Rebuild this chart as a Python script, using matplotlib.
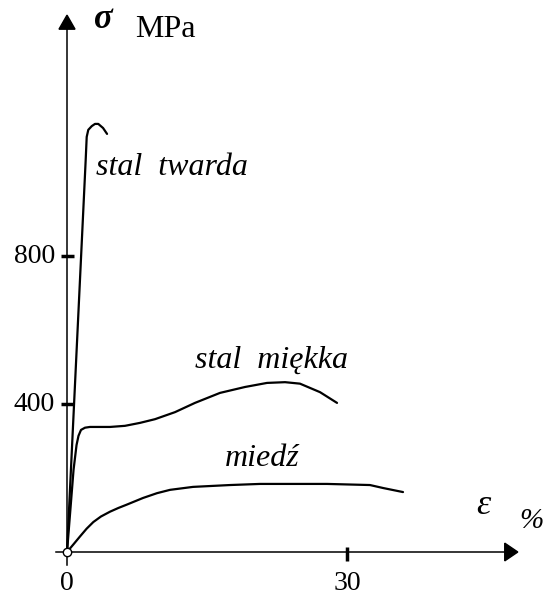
import matplotlib
matplotlib.use("Agg")
import matplotlib.pyplot as plt
from matplotlib.patches import Polygon

# ---- data (strain %, stress MPa) ----
twarda_eps = [0, 2.00, 2.11, 2.28, 2.65, 3.0, 3.35, 3.86, 4.29]
twarda_sig = [0, 1059, 1122, 1141, 1151, 1157, 1157, 1146, 1130]

miekka_eps = [0, 0.70, 1.02, 1.23, 1.50, 1.93, 2.46, 4.61, 6.21, 7.82, 9.43,
              11.57, 13.71, 16.39, 19.07, 21.43, 23.36, 24.96, 27.11, 28.93]
miekka_sig = [0, 222, 289, 314, 330, 336, 338, 338, 341, 349, 359,
              378, 403, 430, 446, 457, 459, 455, 432, 403]

miedz_eps = [0, 0.70, 1.39, 2.10, 2.82, 3.64, 4.61, 5.50, 6.40, 8.14,
             9.64, 11.04, 13.5, 17.46, 20.68, 27.86, 32.46, 33.86, 36.0]
miedz_sig = [0, 21, 42, 63, 81, 96, 109, 119, 128, 146,
             159, 168, 176, 181, 184, 184, 181, 173, 162]

y_ticks = [400, 800]
y_tick_labels = ["400", "800"]
x_ticks = [0, 30]
x_tick_labels = ["0", "30"]

curve_labels = ["stal  twarda", "stal  miękka", "miedź"]

# ---- figure ----
fig = plt.figure(figsize=(5.43, 5.98), dpi=100)
ax = fig.add_axes([0, 0, 1, 1])
ax.set_xlim(-7.18, 51.0)
ax.set_ylim(-124.3, 1491.9)
ax.axis("off")

serif = ["Liberation Serif", "DejaVu Serif"]
lw_curve = 1.6
lw_axis = 1.1

# curves
for xs, ys in [(twarda_eps, twarda_sig), (miekka_eps, miekka_sig),
               (miedz_eps, miedz_sig)]:
    ax.plot(xs, ys, color="black", lw=lw_curve, solid_capstyle="round",
            solid_joinstyle="round")

# axes lines
ax.plot([-1.18, 47.2], [0, 0], color="black", lw=lw_axis, clip_on=False)
ax.plot([0, 0], [-35, 1416], color="black", lw=lw_axis, clip_on=False)
ax.add_patch(Polygon([[46.9, 24], [48.3, 0], [46.9, -24]], closed=True,
                     color="black", clip_on=False))
ax.add_patch(Polygon([[-0.86, 1413], [0, 1451], [0.86, 1413]], closed=True,
                     color="black", clip_on=False))

# ticks
for yt, lab in zip(y_ticks, y_tick_labels):
    ax.plot([-0.64, 0.75], [yt, yt], color="black", lw=2.5, solid_capstyle="butt")
    ax.text(-1.29, yt, lab, ha="right", va="center", fontsize=20, family=serif)
for xt, lab in zip(x_ticks, x_tick_labels):
    if xt != 0:
        ax.plot([xt, xt], [13.5, -24], color="black", lw=2.5, solid_capstyle="butt")
    ax.text(xt, -84, lab, ha="center", va="center", fontsize=20, family=serif)

# origin marker
ax.plot([0], [0], marker="o", markersize=6, markerfacecolor="white",
        markeredgecolor="black", markeredgewidth=1.0, zorder=5, clip_on=False)

# axis titles
ax.text(3.86, 1440, "σ", ha="center", va="center", fontsize=25,
        family=serif, style="italic", weight="bold")
ax.text(7.29, 1411, "MPa", ha="left", va="center", fontsize=23, family=serif)
ax.text(44.6, 127, "ε", ha="center", va="center", fontsize=26,
        family=serif, style="italic")
ax.text(48.5, 84, "%", ha="left", va="center", fontsize=21, family=serif,
        style="italic")

# curve labels
ax.text(3.1, 1040, curve_labels[0], ha="left", va="center", fontsize=23,
        family=serif, style="italic")
ax.text(13.7, 519, curve_labels[1], ha="left", va="center", fontsize=23,
        family=serif, style="italic")
ax.text(16.9, 254, curve_labels[2], ha="left", va="center", fontsize=23,
        family=serif, style="italic")

fig.savefig("out.png", dpi=100)
